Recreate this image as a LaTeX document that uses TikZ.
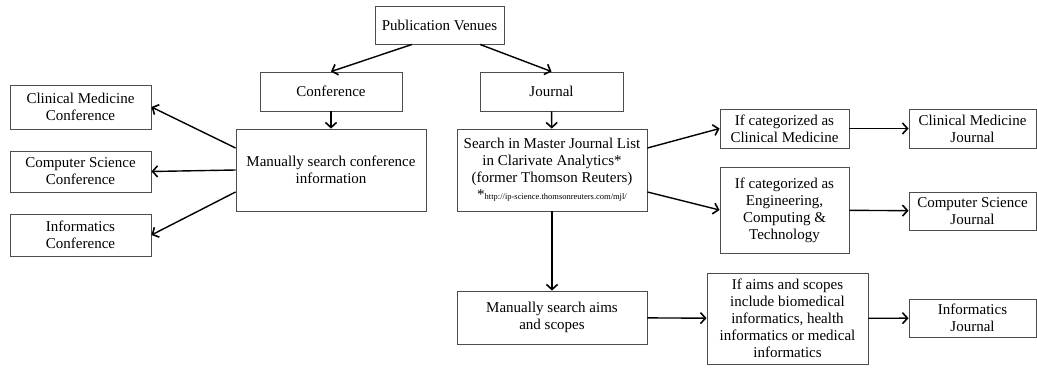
\documentclass[tikz,border=0pt]{standalone}
\usepackage{fontspec}
\setmainfont{Liberation Serif}
\usetikzlibrary{arrows.meta}

\begin{document}
\begin{tikzpicture}[x=1pt, y=-1pt, >={Straight Barb[length=5pt, width=11pt, line width=1.6pt]},
  box/.style={draw=black!70, line width=0.9pt, align=center, inner sep=2pt,
    font=\fontsize{15}{17}\selectfont},
  link/.style={->, line width=1.4pt}]
\useasboundingbox (0,0) rectangle (1037,369);

\node[box, minimum width=129pt, minimum height=38pt] (venues) at (439.5,25) {Publication Venues};
\node[box, minimum width=142pt, minimum height=39pt] (conf) at (331,91.5) {Conference};
\node[box, minimum width=143pt, minimum height=39pt] (jour) at (551.5,91.5) {Journal};

\node[box, minimum width=190pt, minimum height=82pt] (confsearch) at (331,170) {Manually search conference\\information};
\node[box, minimum width=141pt, minimum height=44pt] (cmconf) at (80.5,107) {Clinical Medicine\\Conference};
\node[box, minimum width=141pt, minimum height=41pt] (csconf) at (80.5,171.5) {Computer Science\\Conference};
\node[box, minimum width=141pt, minimum height=42pt] (infconf) at (80.5,235) {Informatics\\Conference};

\node[box, minimum width=190pt, minimum height=82pt] (mjl) at (552,170) {Search in Master Journal List\\in Clarivate Analytics*\\(former Thomson Reuters)\\
  *{\fontsize{8.5}{9}\selectfont http://ip-science.thomsonreuters.com/mjl/}};
\node[box, minimum width=190pt, minimum height=53pt] (aims) at (552,317.5) {Manually search aims\\and scopes};

\node[box, minimum width=129pt, minimum height=39pt] (ifcm) at (784.5,128.5) {If categorized as\\Clinical Medicine};
\node[box, minimum width=129pt, minimum height=86pt] (ifect) at (784.5,210) {If categorized as\\Engineering,\\Computing \&\\Technology};
\node[box, minimum width=161pt, minimum height=91pt] (ifaims) at (787.5,318.5) {If aims and scopes\\include biomedical\\informatics, health\\informatics or medical\\informatics};

\node[box, minimum width=127pt, minimum height=39pt] (cmjour) at (972.5,128.5) {Clinical Medicine\\Journal};
\node[box, minimum width=127pt, minimum height=38pt] (csjour) at (972.5,211) {Computer Science\\Journal};
\node[box, minimum width=127pt, minimum height=38pt] (infjour) at (972.5,318) {Informatics\\Journal};

% conference side
\draw[link] ([xshift=-27.5pt]venues.south) -- (conf.north);
\draw[link] (conf) -- (confsearch);
\draw[link] ([yshift=22pt]confsearch.west) -- (cmconf.east);
\draw[link] (confsearch.west) -- (csconf.east);
\draw[link] ([yshift=-22pt]confsearch.west) -- (infconf.east);

% journal side
\draw[link] ([xshift=40.5pt]venues.south) -- (jour.north);
\draw[link] (jour) -- (mjl);
\draw[link] ([yshift=22pt]mjl.east) -- (ifcm.west);
\draw[link] ([yshift=-22pt]mjl.east) -- (ifect.west);
\draw[link] (mjl) -- (aims);
\draw[link] (aims) -- (ifaims);
\draw[link] (ifcm) -- (cmjour);
\draw[link] (ifect) -- (csjour);
\draw[link] (ifaims) -- (infjour);

\end{tikzpicture}
\end{document}
